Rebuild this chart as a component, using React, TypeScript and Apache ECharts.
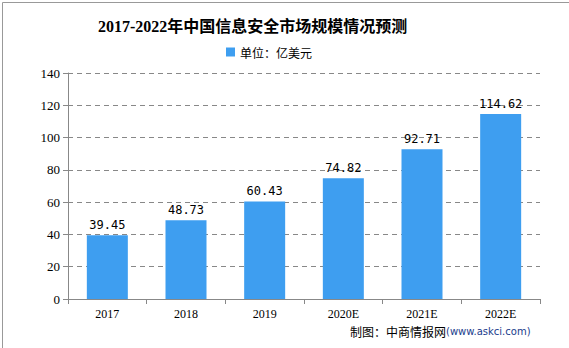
import React, { useEffect, useRef } from "react";
import * as echarts from "echarts";

const categories = ["2017", "2018", "2019", "2020E", "2021E", "2022E"];
const values = [39.45, 48.73, 60.43, 74.82, 92.71, 114.62];
const seriesName = "单位：亿美元";
const titleText = "2017-2022年中国信息安全市场规模情况预测";
const sourceText = "制图：中商情报网";
const sourceUrl = "(www.askci.com)";

export default function App() {
  const ref = useRef<HTMLDivElement>(null);
  useEffect(() => {
    if (!ref.current) return;
    const chart = echarts.init(ref.current, null, { renderer: "svg" });
    const serif = "'Liberation Serif', 'Noto Sans CJK SC', serif";
    chart.setOption({
      animation: false,
      backgroundColor: "#ffffff",
      title: {
        text: titleText,
        left: 93,
        top: 13,
        textStyle: { fontSize: 16, fontWeight: "bold", color: "#000", fontFamily: serif },
      },
      legend: {
        top: 41,
        left: 221,
        itemWidth: 9,
        itemHeight: 9,
        itemGap: 3,
        icon: "rect",
        textStyle: { fontSize: 12, color: "#000", fontFamily: "'Noto Sans CJK SC', sans-serif" },
        data: [seriesName],
      },
      grid: { left: 68, right: 29, top: 73, bottom: 49, containLabel: false },
      xAxis: {
        type: "category",
        data: categories,
        axisLine: { lineStyle: { color: "#888" } },
        axisTick: { show: true, alignWithLabel: false, lineStyle: { color: "#888" }, length: 5 },
        axisLabel: { color: "#000", fontSize: 12, fontFamily: serif, margin: 9 },
      },
      yAxis: {
        type: "value",
        min: 0,
        max: 140,
        interval: 20,
        axisLine: { show: true, lineStyle: { color: "#888" } },
        axisTick: { show: true, lineStyle: { color: "#888" }, length: 5 },
        axisLabel: { color: "#000", fontSize: 13, fontFamily: serif, margin: 8 },
        splitLine: { lineStyle: { color: "#888", type: [5, 4] } },
      },
      series: [
        {
          name: seriesName,
          type: "bar",
          data: values,
          barWidth: 41,
          itemStyle: { color: "#3E9EF0" },
          label: {
            show: true,
            position: "top",
            distance: 4,
            color: "#000",
            fontSize: 12,
            fontFamily: "'DejaVu Sans Mono', monospace",
            formatter: (p: any) => p.value.toFixed(2),
          },
        },
      ],
      graphic: [
        {
          type: "rect",
          left: 0,
          top: 0,
          shape: { width: 568, height: 347 },
          style: { fill: "none", stroke: "#999", lineWidth: 1 },
          silent: true,
        },
        {
          type: "text",
          left: 350,
          top: 325,
          style: {
            text: "{a|" + sourceText + "}{b|" + sourceUrl + "}",
            rich: {
              a: { fontSize: 12, fill: "#000", fontFamily: "'Noto Sans CJK SC', sans-serif" },
              b: { fontSize: 10, fill: "#1a3c8c", fontFamily: "'DejaVu Sans', sans-serif" },
            },
          },
        },
      ],
    });
    return () => chart.dispose();
  }, []);
  return <div ref={ref} style={{ width: 569, height: 348, position: "absolute", left: 0, top: 0 }} />;
}
